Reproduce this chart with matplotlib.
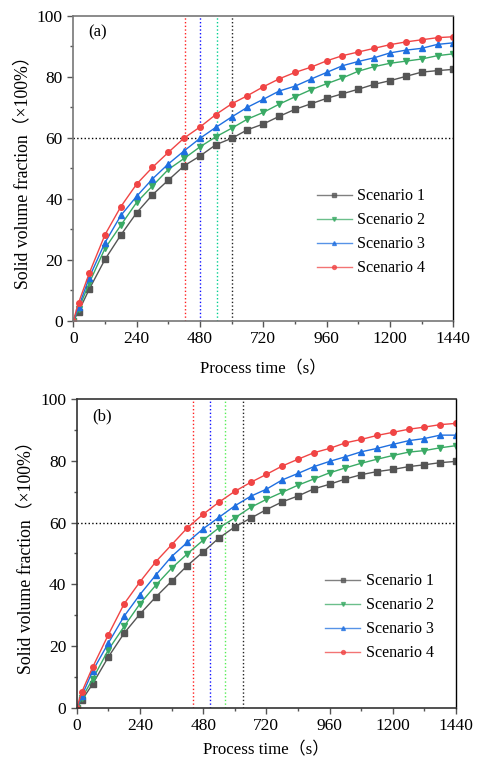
import matplotlib
matplotlib.use('Agg')
import matplotlib.pyplot as plt
from matplotlib.ticker import MultipleLocator

plt.rcParams['font.family'] = ['Liberation Serif', 'Noto Sans CJK SC']
plt.rcParams['font.size'] = 11.5

time_s = [0, 20, 60, 120, 180, 240, 300, 360, 420, 480, 540, 600, 660,
          720, 780, 840, 900, 960, 1020, 1080, 1140, 1200, 1260, 1320, 1380, 1440]

# panel (a)
s1_a = [0, 3.0, 10.3, 20.1, 28.1, 35.4, 41.3, 46.1, 50.8, 54.0, 57.7, 59.8, 62.6,
        64.5, 67.0, 69.3, 71.1, 72.9, 74.4, 75.9, 77.5, 78.7, 80.1, 81.5, 82.0, 82.4]
s2_a = [0, 3.8, 12.3, 23.7, 31.3, 38.8, 44.2, 49.6, 53.2, 57.0, 60.3, 63.1, 66.1,
        68.3, 71.0, 73.4, 75.7, 77.7, 79.6, 81.8, 83.3, 84.4, 85.1, 85.8, 86.9, 87.5]
s3_a = [0, 4.5, 14.1, 25.6, 34.5, 40.8, 46.5, 51.4, 55.7, 59.8, 63.4, 66.8, 70.0,
        72.6, 75.3, 76.9, 79.2, 81.4, 83.6, 85.0, 86.2, 87.8, 88.7, 89.3, 90.6, 91.1]
s4_a = [0, 5.9, 15.5, 28.2, 37.4, 44.8, 50.3, 55.2, 59.9, 63.5, 67.6, 71.1, 73.8,
        76.7, 79.3, 81.4, 83.1, 85.2, 86.9, 88.1, 89.3, 90.5, 91.4, 92.1, 92.8, 93.1]
vlines_a = [423, 481, 543, 602]

# panel (b)
s1_b = [0, 2.6, 7.7, 16.5, 24.2, 30.4, 35.9, 41.0, 46.1, 50.5, 55.0, 58.6, 61.4,
        64.2, 66.7, 68.6, 70.9, 72.4, 74.1, 75.5, 76.5, 77.2, 78.1, 78.7, 79.4, 79.8]
s2_b = [0, 3.3, 9.3, 18.8, 26.4, 33.7, 39.7, 45.2, 49.9, 54.3, 58.3, 61.5, 64.9,
        67.5, 69.8, 72.1, 74.1, 76.1, 77.7, 79.2, 80.5, 81.7, 82.8, 83.3, 84.2, 84.9]
s3_b = [0, 4.0, 11.9, 21.0, 29.7, 36.7, 43.0, 49.0, 53.6, 58.0, 61.7, 65.4, 68.5,
        70.8, 73.8, 75.9, 78.1, 79.8, 81.3, 82.9, 84.0, 85.3, 86.5, 87.2, 88.3, 88.3]
s4_b = [0, 5.3, 13.1, 23.7, 33.7, 40.8, 47.3, 52.8, 58.3, 62.7, 66.6, 70.1, 73.0,
        75.6, 78.3, 80.5, 82.6, 84.0, 85.8, 86.9, 88.2, 89.2, 90.2, 90.9, 91.7, 92.1]
vlines_b = [443, 507, 564, 630]

labels = ['Scenario 1', 'Scenario 2', 'Scenario 3', 'Scenario 4']
colors = ['#555555', '#3aaa65', '#1f6fe0', '#f04545']
markers = ['s', 'v', '^', 'o']


def draw_panel(ax, series, vlines, vcolors, tag, leg_anchor, spine_col, xpad):
    for ys, lab, c, m in zip(series, labels, colors, markers):
        ax.plot(time_s, ys, color=c, marker=m, markersize=4, lw=1.0, label=lab)
    for xv, c in zip(vlines, vcolors):
        ax.axvline(xv, color=c, ls=':', lw=1.0, zorder=0)
    ax.axhline(60, color='black', ls=':', lw=1.0, zorder=0)

    ax.set_xlim(0, 1440)
    ax.set_ylim(0, 100)
    ax.xaxis.set_major_locator(MultipleLocator(240))
    ax.xaxis.set_minor_locator(MultipleLocator(120))
    ax.yaxis.set_major_locator(MultipleLocator(20))
    ax.yaxis.set_minor_locator(MultipleLocator(10))
    ax.tick_params(which='both', direction='out', top=False, right=False,
                   color='#555555', labelsize=12.5)
    ax.tick_params(which='major', length=4, width=1)
    ax.tick_params(which='minor', length=2.5, width=1)
    for side in ['left', 'top', 'bottom']:
        ax.spines[side].set_color(spine_col)
        ax.spines[side].set_linewidth(1.2)
    ax.spines['right'].set_color('black')
    ax.spines['right'].set_linewidth(1.0)

    ax.set_xlabel('Process time（s）', labelpad=xpad, fontsize=12.2)
    ax.set_ylabel('Solid volume fraction（×100%）', labelpad=4, fontsize=12.8)
    ax.text(0.04, 0.945, tag, transform=ax.transAxes, ha='left', va='center',
            fontsize=12)

    leg = ax.legend(loc='center left', bbox_to_anchor=leg_anchor, frameon=False,
                    borderaxespad=0, borderpad=0, handlelength=2.2,
                    handletextpad=0.35, labelspacing=0.5, markerscale=0.7)
    for h in leg.legend_handles:
        h.set_alpha(0.75)


fig = plt.figure(figsize=(4.78, 7.62), dpi=100)
ax_a = fig.add_axes([0.1534, 0.5791, 0.795, 0.4003])
ax_b = fig.add_axes([0.1605, 0.0709, 0.7935, 0.4055])

draw_panel(ax_a, [s1_a, s2_a, s3_a, s4_a], vlines_a,
           ['#ff2020', '#1010ff', '#00d090', '#222222'], '(a)', (0.64, 0.29), '#777777', 10)
draw_panel(ax_b, [s1_b, s2_b, s3_b, s4_b], vlines_b,
           ['#ff2020', '#1010ff', '#55ee55', '#222222'], '(b)', (0.655, 0.293), '#333333', 6)

fig.savefig('out.png', dpi=100)
